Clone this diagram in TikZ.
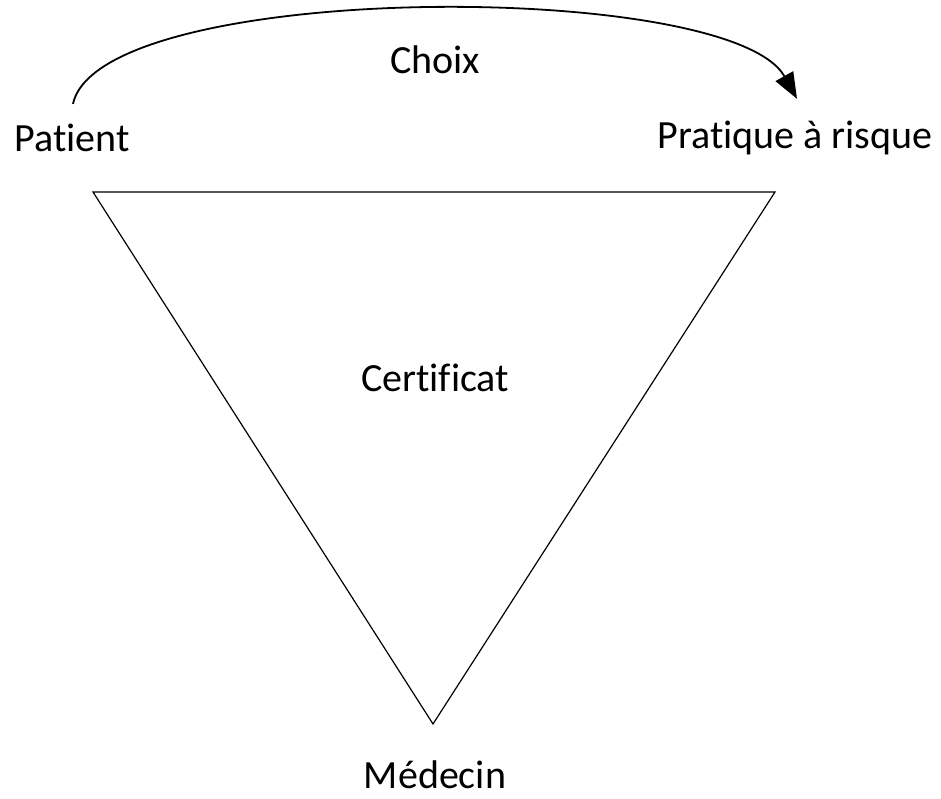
\documentclass[tikz,border=0pt]{standalone}
\usepackage{fontspec}
\setmainfont{Carlito}[Ligatures=NoCommon]
\usetikzlibrary{positioning,calc,arrows.meta}

\begin{document}
\begin{tikzpicture}[x=1pt,y=-1pt,
		txt/.style={inner sep=0pt,font=\fontsize{40}{44}\selectfont}]
		\useasboundingbox (0,0) rectangle (941,798);
		
		\coordinate (A) at (93,192);
		\coordinate (B) at (775,192);
		\coordinate (C) at (433,724);
		\draw[line width=1.2pt] (A) -- (B) -- (C) -- cycle;
		
		\node[txt] (P) at (72,138) {Patient};
		\node[txt] (R) at (795,138) {Pratique à risque};
		\node[txt] (Ch) at (435,60) {Choix};
		\node[txt] (Ce) at (435,378) {Certificat};
		\node[txt] (M) at (435,775) {Médecin};
		
		\draw[line width=1.8pt,-{Triangle[length=26pt,width=20pt]}] ($(P.north)+(1,-20)$) .. controls (100,-20) and (730,-21) .. ($(R.north)+(2,-22)$);
		\end{tikzpicture}
\end{document}
